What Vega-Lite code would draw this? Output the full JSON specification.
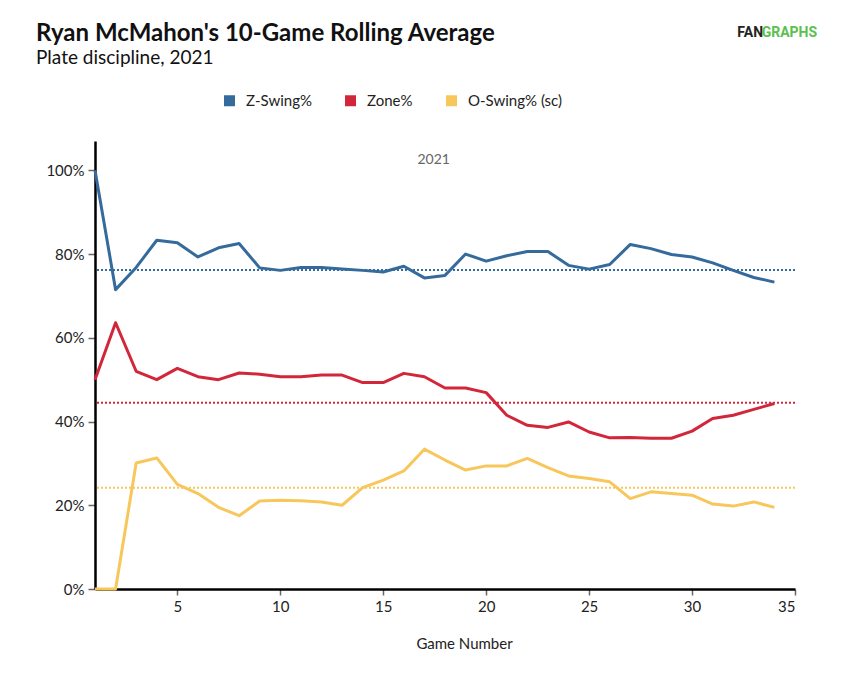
{
  "$schema": "https://vega.github.io/schema/vega-lite/v6.json",
  "width": 700,
  "height": 448,
  "autosize": {"type": "none"},
  "padding": {"left": 95, "top": 141, "right": 48, "bottom": 93},
  "background": "white",
  "title": {
    "text": "Ryan McMahon's 10-Game Rolling Average",
    "subtitle": "Plate discipline, 2021",
    "anchor": "start",
    "frame": "group",
    "dx": -59,
    "offset": -42,
    "font": "Lato",
    "fontSize": 24,
    "fontWeight": "bold",
    "color": "#111111",
    "subtitleFont": "Lato",
    "subtitleFontSize": 19,
    "subtitleColor": "#111111",
    "subtitlePadding": 3
  },
  "datasets": {
    "main": [
      {"game":1,"metric":"Z-Swing%","value":100},{"game":2,"metric":"Z-Swing%","value":71.5},{"game":3,"metric":"Z-Swing%","value":76.8},{"game":4,"metric":"Z-Swing%","value":83.3},{"game":5,"metric":"Z-Swing%","value":82.7},{"game":6,"metric":"Z-Swing%","value":79.3},{"game":7,"metric":"Z-Swing%","value":81.5},{"game":8,"metric":"Z-Swing%","value":82.5},{"game":9,"metric":"Z-Swing%","value":76.7},{"game":10,"metric":"Z-Swing%","value":76.1},{"game":11,"metric":"Z-Swing%","value":76.8},{"game":12,"metric":"Z-Swing%","value":76.8},{"game":13,"metric":"Z-Swing%","value":76.4},{"game":14,"metric":"Z-Swing%","value":76.1},{"game":15,"metric":"Z-Swing%","value":75.7},{"game":16,"metric":"Z-Swing%","value":77.1},{"game":17,"metric":"Z-Swing%","value":74.3},{"game":18,"metric":"Z-Swing%","value":74.9},{"game":19,"metric":"Z-Swing%","value":80.0},{"game":20,"metric":"Z-Swing%","value":78.3},{"game":21,"metric":"Z-Swing%","value":79.6},{"game":22,"metric":"Z-Swing%","value":80.6},{"game":23,"metric":"Z-Swing%","value":80.6},{"game":24,"metric":"Z-Swing%","value":77.3},{"game":25,"metric":"Z-Swing%","value":76.4},{"game":26,"metric":"Z-Swing%","value":77.5},{"game":27,"metric":"Z-Swing%","value":82.3},{"game":28,"metric":"Z-Swing%","value":81.3},{"game":29,"metric":"Z-Swing%","value":79.9},{"game":30,"metric":"Z-Swing%","value":79.3},{"game":31,"metric":"Z-Swing%","value":77.9},{"game":32,"metric":"Z-Swing%","value":76.1},{"game":33,"metric":"Z-Swing%","value":74.4},{"game":34,"metric":"Z-Swing%","value":73.3},
      {"game":1,"metric":"Zone%","value":50.0},{"game":2,"metric":"Zone%","value":63.6},{"game":3,"metric":"Zone%","value":52.0},{"game":4,"metric":"Zone%","value":50.0},{"game":5,"metric":"Zone%","value":52.7},{"game":6,"metric":"Zone%","value":50.7},{"game":7,"metric":"Zone%","value":50.0},{"game":8,"metric":"Zone%","value":51.6},{"game":9,"metric":"Zone%","value":51.3},{"game":10,"metric":"Zone%","value":50.7},{"game":11,"metric":"Zone%","value":50.7},{"game":12,"metric":"Zone%","value":51.1},{"game":13,"metric":"Zone%","value":51.1},{"game":14,"metric":"Zone%","value":49.3},{"game":15,"metric":"Zone%","value":49.3},{"game":16,"metric":"Zone%","value":51.5},{"game":17,"metric":"Zone%","value":50.7},{"game":18,"metric":"Zone%","value":48.0},{"game":19,"metric":"Zone%","value":48.0},{"game":20,"metric":"Zone%","value":46.9},{"game":21,"metric":"Zone%","value":41.5},{"game":22,"metric":"Zone%","value":39.1},{"game":23,"metric":"Zone%","value":38.6},{"game":24,"metric":"Zone%","value":39.9},{"game":25,"metric":"Zone%","value":37.5},{"game":26,"metric":"Zone%","value":36.1},{"game":27,"metric":"Zone%","value":36.2},{"game":28,"metric":"Zone%","value":36.0},{"game":29,"metric":"Zone%","value":36.0},{"game":30,"metric":"Zone%","value":37.7},{"game":31,"metric":"Zone%","value":40.7},{"game":32,"metric":"Zone%","value":41.5},{"game":33,"metric":"Zone%","value":42.9},{"game":34,"metric":"Zone%","value":44.3},
      {"game":1,"metric":"O-Swing% (sc)","value":0},{"game":2,"metric":"O-Swing% (sc)","value":0},{"game":3,"metric":"O-Swing% (sc)","value":30.1},{"game":4,"metric":"O-Swing% (sc)","value":31.3},{"game":5,"metric":"O-Swing% (sc)","value":25.0},{"game":6,"metric":"O-Swing% (sc)","value":22.8},{"game":7,"metric":"O-Swing% (sc)","value":19.5},{"game":8,"metric":"O-Swing% (sc)","value":17.5},{"game":9,"metric":"O-Swing% (sc)","value":21.0},{"game":10,"metric":"O-Swing% (sc)","value":21.2},{"game":11,"metric":"O-Swing% (sc)","value":21.1},{"game":12,"metric":"O-Swing% (sc)","value":20.8},{"game":13,"metric":"O-Swing% (sc)","value":20.0},{"game":14,"metric":"O-Swing% (sc)","value":24.2},{"game":15,"metric":"O-Swing% (sc)","value":26.0},{"game":16,"metric":"O-Swing% (sc)","value":28.2},{"game":17,"metric":"O-Swing% (sc)","value":33.4},{"game":18,"metric":"O-Swing% (sc)","value":30.8},{"game":19,"metric":"O-Swing% (sc)","value":28.4},{"game":20,"metric":"O-Swing% (sc)","value":29.4},{"game":21,"metric":"O-Swing% (sc)","value":29.4},{"game":22,"metric":"O-Swing% (sc)","value":31.2},{"game":23,"metric":"O-Swing% (sc)","value":29.0},{"game":24,"metric":"O-Swing% (sc)","value":27.0},{"game":25,"metric":"O-Swing% (sc)","value":26.4},{"game":26,"metric":"O-Swing% (sc)","value":25.6},{"game":27,"metric":"O-Swing% (sc)","value":21.6},{"game":28,"metric":"O-Swing% (sc)","value":23.2},{"game":29,"metric":"O-Swing% (sc)","value":22.8},{"game":30,"metric":"O-Swing% (sc)","value":22.4},{"game":31,"metric":"O-Swing% (sc)","value":20.3},{"game":32,"metric":"O-Swing% (sc)","value":19.8},{"game":33,"metric":"O-Swing% (sc)","value":20.8},{"game":34,"metric":"O-Swing% (sc)","value":19.5}
    ],
    "means": [
      {"metric":"Z-Swing%","mean":76.2},
      {"metric":"Zone%","mean":44.5},
      {"metric":"O-Swing% (sc)","mean":24.2}
    ]
  },
  "layer": [
    {
      "data": {"name": "means"},
      "mark": {"type": "rule", "strokeWidth": 2, "strokeDash": [2, 2]},
      "encoding": {
        "y": {"field": "mean", "type": "quantitative", "scale": {"domain": [0, 107], "nice": false}},
        "color": {"field": "metric", "type": "nominal"}
      }
    },
    {
      "data": {"name": "main"},
      "mark": {"type": "line", "strokeWidth": 3, "strokeJoin": "round"},
      "encoding": {
        "x": {
          "field": "game", "type": "quantitative",
          "scale": {"domain": [1, 35], "nice": false, "zero": false},
          "axis": {
            "values": [5, 10, 15, 20, 25, 30, 35],
            "title": "Game Number",
            "grid": false,
            "domainColor": "#000000", "domainWidth": 2.5,
            "tickColor": "#666666", "tickSize": 6, "tickWidth": 1.5,
            "labelFont": "Lato", "labelFontSize": 15, "labelColor": "#222222", "labelPadding": 4,
            "titleFont": "Lato", "titleFontSize": 15, "titleFontWeight": "normal", "titleColor": "#222222",
            "titleX": 369, "titleY": 54, "titleBaseline": "middle", "titleAnchor": null
          }
        },
        "y": {
          "field": "value", "type": "quantitative",
          "scale": {"domain": [0, 107], "nice": false},
          "axis": {
            "values": [0, 20, 40, 60, 80, 100],
            "labelExpr": "datum.value + '%'",
            "title": null,
            "grid": false,
            "domainColor": "#000000", "domainWidth": 2.5,
            "tickColor": "#666666", "tickSize": 7, "tickWidth": 1.5,
            "labelFont": "Lato", "labelFontSize": 15, "labelColor": "#222222", "labelPadding": 4
          }
        },
        "color": {
          "field": "metric", "type": "nominal",
          "scale": {"domain": ["Z-Swing%", "Zone%", "O-Swing% (sc)"], "range": ["#356a9c", "#d2273a", "#f8c75c"]},
          "legend": {
            "title": null,
            "orient": "none",
            "direction": "horizontal",
            "legendX": 127,
            "legendY": -48,
            "symbolType": "square",
            "symbolSize": 121,
            "symbolStrokeWidth": 0,
            "symbolOpacity": 1,
            "labelFont": "Lato",
            "labelFontSize": 15,
            "labelColor": "#222222",
            "labelOffset": 9,
            "columnPadding": 31,
            "padding": 0,
            "encode": {
              "symbols": {"update": {"fill": {"scale": "color", "field": "value"}, "opacity": {"value": 1}}}
            }
          }
        }
      }
    },
    {
      "data": {"values": [{"label": "2021"}]},
      "mark": {"type": "text", "font": "Lato", "fontSize": 14, "color": "#666666", "align": "center", "baseline": "middle"},
      "encoding": {
        "x": {"datum": 17.45, "type": "quantitative"},
        "y": {"datum": 102.5, "type": "quantitative"},
        "text": {"field": "label"}
      }
    },
    {
      "data": {"values": [{"part": "FAN", "pos": 32.2}]},
      "mark": {"type": "text", "font": "Roboto", "fontSize": 14, "fontWeight": "bold", "align": "left", "baseline": "middle", "color": "#222222"},
      "encoding": {
        "x": {"field": "pos", "type": "quantitative"},
        "y": {"datum": 132.8, "type": "quantitative"},
        "text": {"field": "part"}
      }
    },
    {
      "data": {"values": [{"part": "GRAPHS", "pos": 33.38}]},
      "mark": {"type": "text", "font": "Roboto", "fontSize": 14, "fontWeight": "bold", "align": "left", "baseline": "middle", "color": "#5cbf4f"},
      "encoding": {
        "x": {"field": "pos", "type": "quantitative"},
        "y": {"datum": 132.8, "type": "quantitative"},
        "text": {"field": "part"}
      }
    }
  ],
  "config": {
    "view": {"stroke": null},
    "font": "Lato"
  }
}
